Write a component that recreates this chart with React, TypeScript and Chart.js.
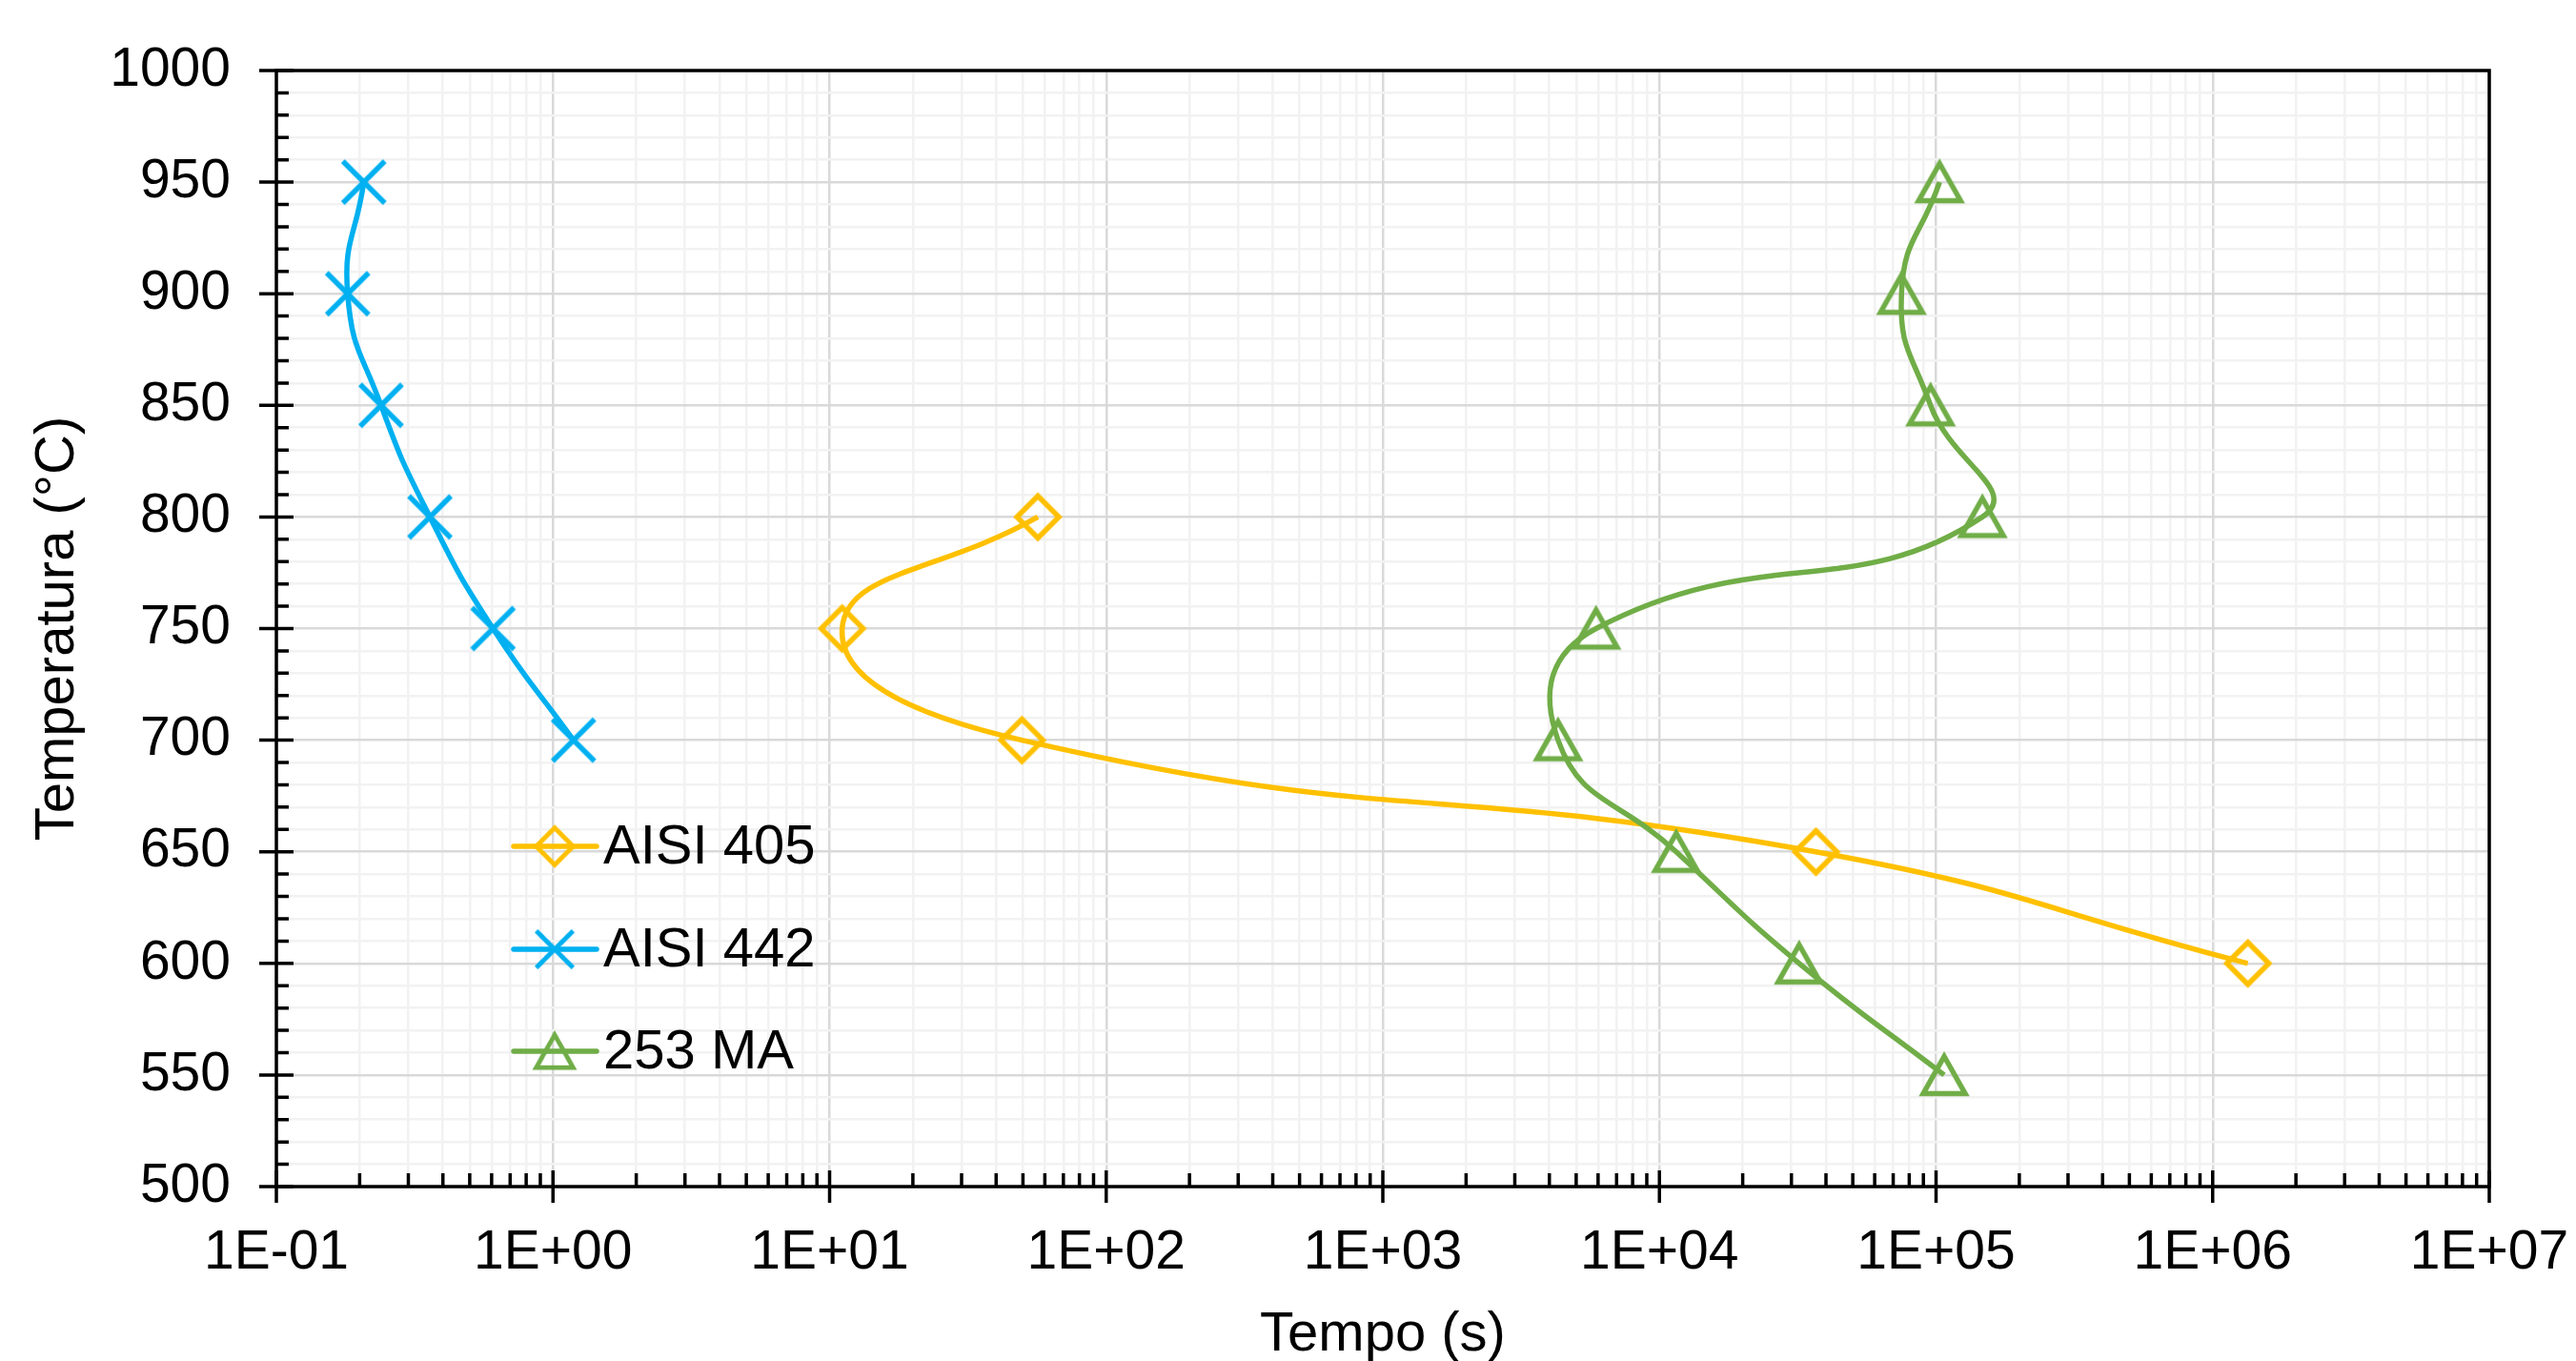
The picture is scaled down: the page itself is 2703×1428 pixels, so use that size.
import React, { useEffect, useRef } from 'react';
import { Chart, registerables } from 'chart.js';

Chart.register(...registerables);

const W = 2703;
const H = 1428;
const FONT = '"Liberation Sans", Arial, Helvetica, sans-serif';

// ---- data (time in s, temperature in °C) ----
const labels = ['AISI 405', 'AISI 442', '253 MA'];
const colors = ['#FFC000', '#00B0F0', '#70AD47'];

const temps405 = [800, 750, 700, 650, 600];
const times405 = [56.6, 11.1, 49.6, 36800, 1340000];

const temps442 = [950, 900, 850, 800, 750, 700];
const times442 = [0.207, 0.181, 0.239, 0.359, 0.607, 1.186];

const temps253 = [950, 900, 850, 800, 750, 700, 650, 600, 550];
const times253 = [103000, 75000, 95500, 147000, 5900, 4300, 11500, 32000, 107000];

// ---- axes ----
const xExponents = [-1, 0, 1, 2, 3, 4, 5, 6, 7];
const xMinorMantissas = [2, 3, 4, 5, 6, 7, 8, 9];
const yMajorTicks = [500, 550, 600, 650, 700, 750, 800, 850, 900, 950, 1000];
const yMinorStep = 10;

const xTitle = 'Tempo (s)';
const yTitle = 'Temperatura (°C)';

function expLabel(v: number): string {
  const e = Math.round(Math.log10(v));
  const s = String(Math.abs(e)).padStart(2, '0');
  return '1E' + (e < 0 ? '-' : '+') + s;
}

function buildXTicks() {
  const ticks: { value: number; major: boolean }[] = [];
  xExponents.forEach((e, i) => {
    const base = Math.pow(10, e);
    ticks.push({ value: base, major: true });
    if (i < xExponents.length - 1) {
      xMinorMantissas.forEach((m) =>
        ticks.push({ value: parseFloat((m * base).toPrecision(8)), major: false })
      );
    }
  });
  return ticks;
}

function buildYTicks() {
  const ticks: { value: number; major: boolean }[] = [];
  const lo = yMajorTicks[0];
  const hi = yMajorTicks[yMajorTicks.length - 1];
  for (let v = lo; v <= hi; v += yMinorStep) {
    ticks.push({ value: v, major: yMajorTicks.includes(v) });
  }
  return ticks;
}

const MARK_LW = 5.5;

function makeMarker(kind: string, color: string): HTMLCanvasElement {
  const c = document.createElement('canvas');
  c.width = 70;
  c.height = 70;
  const g = c.getContext('2d')!;
  g.strokeStyle = color;
  g.lineWidth = MARK_LW;
  g.lineJoin = 'miter';
  g.lineCap = 'butt';
  const cx = 35, cy = 35;
  g.beginPath();
  if (kind === 'diamond') {
    const r = 22;
    g.moveTo(cx - r, cy);
    g.lineTo(cx, cy - r);
    g.lineTo(cx + r, cy);
    g.lineTo(cx, cy + r);
    g.closePath();
  } else if (kind === 'x') {
    const r = 22;
    g.moveTo(cx - r, cy - r);
    g.lineTo(cx + r, cy + r);
    g.moveTo(cx + r, cy - r);
    g.lineTo(cx - r, cy + r);
  } else {
    const s = 44, h = 39;
    g.moveTo(cx, cy - h / 2);
    g.lineTo(cx + s / 2, cy + h / 2);
    g.lineTo(cx - s / 2, cy + h / 2);
    g.closePath();
  }
  g.stroke();
  return c;
}

// legend layout
const LEGEND_LINE_X0 = 539;
const LEGEND_LINE_X1 = 626;
const LEGEND_MARKER_X = 582;
const LEGEND_TEXT_X = 633;
const LEGEND_ROWS_Y = [888, 996, 1103];

const framePlugin = {
  id: 'frameTicks',
  beforeDatasetsDraw(chart: any) {
    const { ctx, chartArea: a, scales } = chart;
    const x = scales.x;
    const y = scales.y;
    ctx.save();
    ctx.strokeStyle = '#000000';
    ctx.lineWidth = 3.5;
    ctx.lineCap = 'butt';
    ctx.beginPath();
    y.ticks.forEach((t: any) => {
      const py = y.getPixelForValue(t.value);
      if (t.major) {
        ctx.moveTo(a.left - 18, py);
        ctx.lineTo(a.left + 18, py);
      } else {
        ctx.moveTo(a.left, py);
        ctx.lineTo(a.left + 13, py);
      }
    });
    x.ticks.forEach((t: any) => {
      const px = x.getPixelForValue(t.value);
      if (t.major) {
        ctx.moveTo(px, a.bottom - 17);
        ctx.lineTo(px, a.bottom + 17);
      } else {
        ctx.moveTo(px, a.bottom);
        ctx.lineTo(px, a.bottom - 14);
      }
    });
    ctx.stroke();
    ctx.strokeRect(a.left, a.top, a.right - a.left, a.bottom - a.top);
    ctx.restore();
  },
};

const legendPlugin = {
  id: 'insideLegend',
  afterDatasetsDraw(chart: any) {
    const { ctx } = chart;
    ctx.save();
    chart.data.datasets.forEach((ds: any, i: number) => {
      const yy = LEGEND_ROWS_Y[i];
      ctx.strokeStyle = ds.borderColor;
      ctx.lineWidth = ds.borderWidth;
      ctx.lineCap = 'round';
      ctx.beginPath();
      ctx.moveTo(LEGEND_LINE_X0, yy);
      ctx.lineTo(LEGEND_LINE_X1, yy);
      ctx.stroke();
      const img = ds.pointStyle as HTMLCanvasElement;
      const sc = 0.88;
      ctx.drawImage(
        img,
        LEGEND_MARKER_X - (img.width * sc) / 2,
        yy - (img.height * sc) / 2,
        img.width * sc,
        img.height * sc
      );
      ctx.fillStyle = '#000000';
      ctx.font = `58px ${FONT}`;
      ctx.textAlign = 'left';
      ctx.textBaseline = 'middle';
      ctx.fillText(ds.label, LEGEND_TEXT_X, yy + 2);
    });
    ctx.restore();
  },
};

export default function App() {
  const ref = useRef<HTMLCanvasElement | null>(null);

  useEffect(() => {
    if (!ref.current) return;
    const markers = [
      makeMarker('diamond', colors[0]),
      makeMarker('x', colors[1]),
      makeMarker('triangle', colors[2]),
    ];
    const series = [
      { t: temps405, s: times405 },
      { t: temps442, s: times442 },
      { t: temps253, s: times253 },
    ];
    const orders = [3, 2, 1];
    const datasets = series.map((sr, i) => ({
      label: labels[i],
      data: sr.s.map((time, j) => ({ x: time, y: sr.t[j] })),
      showLine: true,
      borderColor: colors[i],
      backgroundColor: 'rgba(0,0,0,0)',
      borderWidth: 5.5,
      tension: 0.5,
      pointStyle: markers[i],
      pointRadius: 22,
      pointBorderWidth: MARK_LW,
      pointBorderColor: colors[i],
      pointBackgroundColor: 'rgba(0,0,0,0)',
      order: orders[i],
    }));

    const xTicks = buildXTicks();
    const yTicks = buildYTicks();

    const chart = new Chart(ref.current, {
      type: 'scatter',
      data: { datasets },
      options: {
        responsive: false,
        animation: false,
        devicePixelRatio: 1,
        layout: { padding: { top: 74, right: 91, left: 0, bottom: 0 } },
        plugins: {
          legend: { display: false },
          tooltip: { enabled: false },
        },
        scales: {
          x: {
            type: 'logarithmic',
            min: 0.1,
            max: 1e7,
            afterBuildTicks: (scale: any) => {
              scale.ticks = xTicks.map((t) => ({ ...t }));
            },
            afterFit: (scale: any) => {
              scale.height = 183;
              scale.paddingLeft = 0;
              scale.paddingRight = 0;
            },
            border: { display: false },
            grid: {
              drawTicks: false,
              color: (c: any) => (c.tick && c.tick.major ? '#D9D9D9' : '#F2F2F2'),
              lineWidth: 2.5,
            },
            ticks: {
              autoSkip: false,
              maxRotation: 0,
              minRotation: 0,
              padding: 36,
              color: '#000000',
              font: { family: FONT, size: 57 },
              callback: (value: any, index: number, ticks: any[]) =>
                ticks[index] && ticks[index].major ? expLabel(Number(value)) : '',
            },
            title: {
              display: true,
              text: xTitle,
              color: '#000000',
              font: { family: FONT, size: 58 },
              padding: { top: 0, bottom: -8 },
            },
          },
          y: {
            type: 'linear',
            min: 500,
            max: 1000,
            afterBuildTicks: (scale: any) => {
              scale.ticks = yTicks.map((t) => ({ ...t }));
            },
            afterFit: (scale: any) => {
              scale.width = 290;
              scale.paddingTop = 0;
              scale.paddingBottom = 0;
            },
            border: { display: false },
            grid: {
              drawTicks: false,
              color: (c: any) => (c.tick && c.tick.major ? '#D9D9D9' : '#F2F2F2'),
              lineWidth: 2.5,
            },
            ticks: {
              autoSkip: false,
              padding: 48,
              color: '#000000',
              font: { family: FONT, size: 57 },
              callback: (value: any, index: number, ticks: any[]) =>
                ticks[index] && ticks[index].major ? String(value) : '',
            },
            title: {
              display: true,
              text: yTitle,
              color: '#000000',
              font: { family: FONT, size: 58 },
              padding: { top: 26, bottom: 0 },
            },
          },
        },
      },
      plugins: [framePlugin, legendPlugin],
    });

    return () => chart.destroy();
  }, []);

  return (
    <div style={{ position: 'fixed', left: 0, top: 0, width: W, height: H, background: '#ffffff' }}>
      <canvas ref={ref} width={W} height={H} style={{ display: 'block', width: W, height: H }} />
    </div>
  );
}
